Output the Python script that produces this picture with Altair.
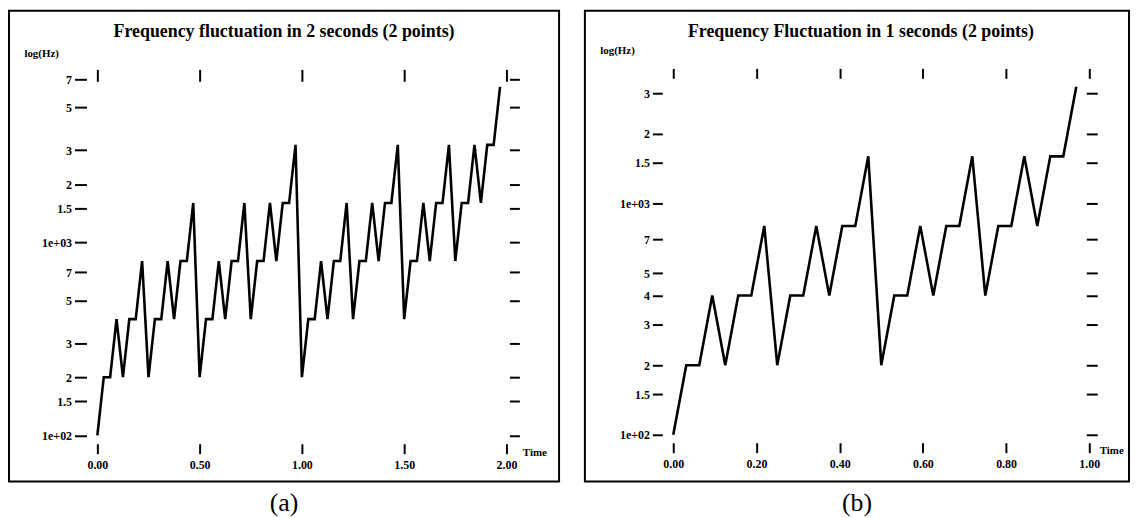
import altair as alt
import pandas as pd

# ---------------- data ----------------
# Panel (a): 2 seconds
time_a = [0.0, 0.03125, 0.0625, 0.09375, 0.125, 0.15625, 0.1875, 0.21875,
          0.25, 0.28125, 0.3125, 0.34375, 0.375, 0.40625, 0.4375, 0.46875,
          0.5, 0.53125, 0.5625, 0.59375, 0.625, 0.65625, 0.6875, 0.71875,
          0.75, 0.78125, 0.8125, 0.84375, 0.875, 0.90625, 0.9375, 0.96875,
          1.0, 1.03125, 1.0625, 1.09375, 1.125, 1.15625, 1.1875, 1.21875,
          1.25, 1.28125, 1.3125, 1.34375, 1.375, 1.40625, 1.4375, 1.46875,
          1.5, 1.53125, 1.5625, 1.59375, 1.625, 1.65625, 1.6875, 1.71875,
          1.75, 1.78125, 1.8125, 1.84375, 1.875, 1.90625, 1.9375, 1.96875]
freq_a = [100, 200, 200, 400, 200, 400, 400, 800,
          200, 400, 400, 800, 400, 800, 800, 1600,
          200, 400, 400, 800, 400, 800, 800, 1600,
          400, 800, 800, 1600, 800, 1600, 1600, 3200,
          200, 400, 400, 800, 400, 800, 800, 1600,
          400, 800, 800, 1600, 800, 1600, 1600, 3200,
          400, 800, 800, 1600, 800, 1600, 1600, 3200,
          800, 1600, 1600, 3200, 1600, 3200, 3200, 6400]

# Panel (b): 1 second
time_b = [0.0, 0.03125, 0.0625, 0.09375, 0.125, 0.15625, 0.1875, 0.21875,
          0.25, 0.28125, 0.3125, 0.34375, 0.375, 0.40625, 0.4375, 0.46875,
          0.5, 0.53125, 0.5625, 0.59375, 0.625, 0.65625, 0.6875, 0.71875,
          0.75, 0.78125, 0.8125, 0.84375, 0.875, 0.90625, 0.9375, 0.96875]
freq_b = [100, 200, 200, 400, 200, 400, 400, 800,
          200, 400, 400, 800, 400, 800, 800, 1600,
          200, 400, 400, 800, 400, 800, 800, 1600,
          400, 800, 800, 1600, 800, 1600, 1600, 3200]

title_a = "Frequency fluctuation in 2 seconds (2 points)"
title_b = "Frequency Fluctuation in 1 seconds (2 points)"
caption_a = "(a)"
caption_b = "(b)"
y_title = "log(Hz)"
x_title = "Time"

x_ticks_a = [0.0, 0.5, 1.0, 1.5, 2.0]
x_ticks_b = [0.0, 0.2, 0.4, 0.6, 0.8, 1.0]
y_ticks_a = [100, 150, 200, 300, 500, 700, 1000, 1500, 2000, 3000, 5000, 7000]
y_labels_a = ["1e+02", "1.5", "2", "3", "5", "7", "1e+03", "1.5", "2", "3", "5", "7"]
y_ticks_b = [100, 150, 200, 300, 400, 500, 700, 1000, 1500, 2000, 3000]
y_labels_b = ["1e+02", "1.5", "2", "3", "4", "5", "7", "1e+03", "1.5", "2", "3"]

SERIF = "Liberation Serif"


def label_expr(vals, labels):
    expr = "''"
    for v, l in reversed(list(zip(vals, labels))):
        expr = f"datum.value == {v} ? '{l}' : ({expr})"
    return expr


def panel(times, freqs, title, xticks, yticks, ylabels, W, H, xr, ydom, yr,
          off_l, off_r, off_t, off_b, tk_l, tk_r, tk_t, tk_b,
          ytx, yty, xtx, xty, title_off, title_dx):
    df = pd.DataFrame({"t": times, "f": freqs})
    xs = alt.Scale(domain=[0, xticks[-1]], range=xr, nice=False, zero=False)
    ys = alt.Scale(type="log", domain=ydom, range=yr, nice=False)
    base = alt.Chart(df)
    main = base.mark_line(color="black", strokeWidth=2.6).encode(
        x=alt.X("t:Q", scale=xs,
                axis=alt.Axis(orient="bottom", values=xticks, format=".2f",
                              offset=off_b, tickSize=tk_b, labelPadding=6,
                              labelFlush=False,
                              title=x_title, titleX=xtx, titleY=xty,
                              titleAlign="left", titleBaseline="middle",
                              titleFont=SERIF, titleFontSize=11,
                              titleFontWeight="bold")),
        y=alt.Y("f:Q", scale=ys,
                axis=alt.Axis(orient="left", values=yticks,
                              labelExpr=label_expr(yticks, ylabels),
                              offset=off_l, tickSize=tk_l, labelPadding=3,
                              title=y_title, titleAngle=0, titleX=ytx,
                              titleY=yty, titleAlign="left",
                              titleBaseline="middle", titleFont=SERIF,
                              titleFontSize=11, titleFontWeight="bold")),
    )
    twin = base.mark_line(opacity=0).encode(
        x=alt.X("t:Q", scale=xs,
                axis=alt.Axis(orient="top", values=xticks, labels=False,
                              offset=off_t, tickSize=tk_t, title=None)),
        y=alt.Y("f:Q", scale=ys,
                axis=alt.Axis(orient="right", values=yticks, labels=False,
                              offset=off_r, tickSize=tk_r, title=None)),
    )
    return alt.layer(main, twin).resolve_axis(
        x="independent", y="independent"
    ).properties(
        width=W, height=H,
        title=alt.TitleParams(title, font=SERIF, fontSize=18,
                              fontWeight="bold", anchor="middle",
                              offset=title_off, dx=title_dx, color="black"),
    )


pa = panel(time_a, freq_a, title_a, x_ticks_a, y_ticks_a, y_labels_a,
           554, 474, [89, 501], [100, 7000], [427.5, 69],
           -78, -50, -71, -38, 12, 10, 12, 10,
           -63, 43, 517, 9, -30, 0)
pb = panel(time_b, freq_b, title_b, x_ticks_b, y_ticks_b, y_labels_b,
           548, 474, [89, 508], [100, 3000], [427, 83],
           -78, -43, -68, -39, 10, 11, 10, 10,
           -63, 40, 518, 8, -30, 4)

cap = dict(orient="bottom", font=SERIF, fontSize=26, fontWeight="normal",
           anchor="middle", offset=8, color="black")
wa = alt.vconcat(pa, title=alt.TitleParams(caption_a, **cap))
wb = alt.vconcat(pb, title=alt.TitleParams(caption_b, **cap))

chart = alt.hconcat(wa, wb, spacing=24).properties(
    padding={"left": 0, "top": 0, "right": 0, "bottom": 0}
).configure_axis(
    domain=False, grid=False, tickColor="black", tickWidth=2,
    labelColor="black", labelFont=SERIF, labelFontSize=12,
    labelFontWeight="bold", titleColor="black",
).configure_view(
    stroke="black", strokeWidth=2
).configure_concat(spacing=24)

chart.save("out.html", embed_options={"renderer": "svg", "actions": False})
